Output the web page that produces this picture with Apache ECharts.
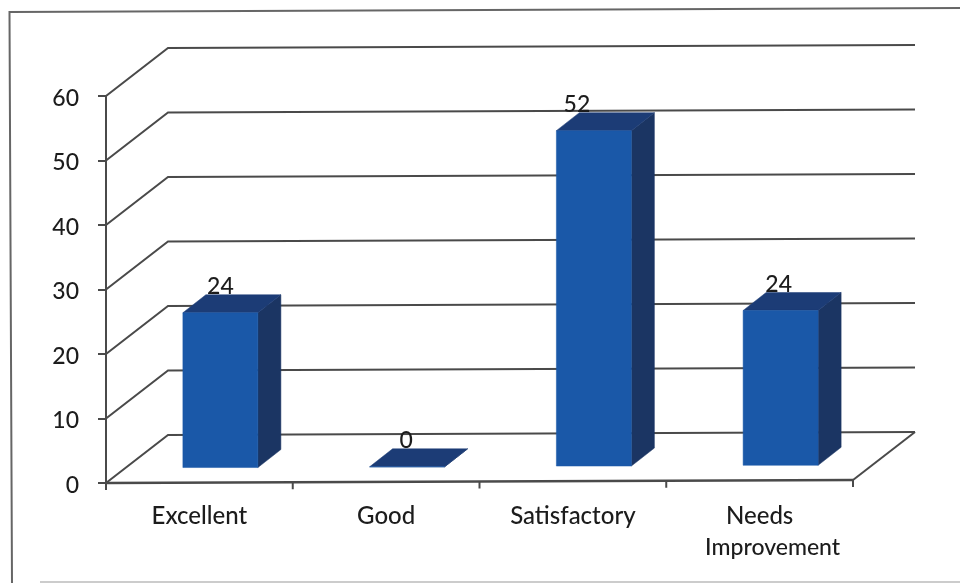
<!DOCTYPE html>
<html><head><meta charset="utf-8">
<style>html,body{margin:0;padding:0;background:#fff}#c{width:960px;height:583px}</style>
<script src="https://cdn.jsdelivr.net/npm/echarts@6/dist/echarts.min.js"></script>
</head><body><div id="c"></div>
<script>
const categories = ['Excellent', 'Good', 'Satisfactory', 'Needs\nImprovement'];
const values = [24, 0, 52, 24];
const valueTicks = [0, 10, 20, 30, 40, 50, 60];
const labelShift = [0, -1, -17, -2];

const WALL = [62, -48], FRONT = [21, -15], DEPTH = [23, -18], HALF = 37.5, TILT = -3 / 747;
const LINE = '#4a4a4a', INK = '#1c1c1c';
const chart = echarts.init(document.getElementById('c'));

function bounds(api) {
  const band = api.size([1, 0])[0];
  return { band, x0: api.coord([0, 0])[0] - band / 2, x1: api.coord([categories.length - 1, 0])[0] + band / 2 };
}
const line = (pts, width) => ({ type: 'polyline', silent: true, shape: { points: pts }, style: { stroke: LINE, lineWidth: width || 2, fill: null } });

function renderWall(params, api) {
  const { x0, x1 } = bounds(api);
  const y = api.coord([0, api.value(1)])[1];
  const span = (x1 - x0) * TILT;
  return line([[x0, y], [x0 + WALL[0], y + WALL[1]], [x1 + WALL[0], y + WALL[1] + span]]);
}
function renderFloor(params, api) {
  const { band, x0, x1 } = bounds(api);
  const y = api.coord([0, 0])[1];
  const span = (x1 - x0) * TILT;
  const kids = [line([[x0, y], [x1, y + span]], 2.4), line([[x1, y + span], [x1 + WALL[0], y + span + WALL[1]]])];
  for (let i = 0; i <= categories.length; i++) {
    const x = x0 + band * i, yy = y + (x - x0) * TILT;
    kids.push(line([[x, yy], [x, yy + 7]]));
  }
  return { type: 'group', children: kids };
}
function renderBar(params, api) {
  const { x0 } = bounds(api);
  const v = api.value(1);
  const c = api.coord([api.value(0), v]);
  const base = api.coord([api.value(0), 0])[1];
  const cx = c[0] + FRONT[0];
  const l = cx - HALF, r = cx + HALF;
  const t = (cx - x0) * TILT + FRONT[1];
  const top = c[1] + t, bot = base + t;
  const [dx, dy] = DEPTH;
  const poly = (pts, fill) => ({ type: 'polygon', shape: { points: pts }, style: { fill, stroke: fill, lineWidth: 0.5 } });
  return { type: 'group', children: [
    poly([[r, top], [r + dx, top + dy], [r + dx, bot + dy], [r, bot]], '#1b3563'),
    poly([[l, top], [l + dx, top + dy], [r + dx, top + dy], [r, top]], '#1c3c76'),
    poly([[l, top], [r, top], [r, bot], [l, bot]], '#1a58a8'),
    { type: 'text', style: { text: String(v), x: cx + labelShift[params.dataIndex], y: top - 26,
        align: 'center', verticalAlign: 'middle', font: '500 23px Lato', fill: INK } }
  ] };
}

const labelFont = { fontFamily: 'Lato', fontWeight: 500, color: INK };
chart.setOption({
  animation: false,
  backgroundColor: '#fff',
  grid: { left: 106, right: 107, top: 96, bottom: 100 },
  graphic: [{ type: 'polyline', silent: true, z: -1,
    shape: { points: [[12, 583], [9.5, 12], [960, 8]] },
    style: { fill: null, stroke: '#666', lineWidth: 2 } },
    { type: 'line', silent: true, z: -1, shape: { x1: 40, y1: 582, x2: 960, y2: 582 },
    style: { stroke: '#bbb', lineWidth: 1.5 } }],
  xAxis: { type: 'category', data: categories,
    axisLine: { show: false }, axisTick: { show: false },
    axisLabel: { ...labelFont, margin: 17, lineHeight: 32, fontSize: 24, interval: 0,
      formatter: s => s.includes('\n') ? s.split('\n').map((p, i) => i ? '{b|' + p + '}' : '{a|' + p + '}').join('\n') : s,
      rich: { a: { ...labelFont, fontSize: 24, lineHeight: 32 },
              b: { ...labelFont, fontSize: 23, lineHeight: 32, padding: [0, 0, 0, 26] } } } },
  yAxis: { type: 'value', min: 0, max: 60, interval: 10, splitLine: { show: false },
    axisLine: { show: true, lineStyle: { color: LINE, width: 2 } },
    axisTick: { show: true, length: 8, lineStyle: { color: LINE, width: 2 } },
    axisLabel: { ...labelFont, margin: 27, fontSize: 23, formatter: v => '{n|' + v + '}',
      rich: { n: { ...labelFont, fontSize: 23, padding: [5, 0, 0, 0] } } } },
  series: [
    { type: 'custom', name: 'wall', coordinateSystem: 'cartesian2d', clip: false, silent: true,
      renderItem: renderWall, data: valueTicks.map(v => [0, v]) },
    { type: 'custom', name: 'floor', coordinateSystem: 'cartesian2d', clip: false, silent: true,
      renderItem: renderFloor, data: [[0, 0]] },
    { type: 'custom', name: 'bars', coordinateSystem: 'cartesian2d', clip: false,
      renderItem: renderBar, data: values.map((v, i) => [i, v]) }
  ]
});
</script></body></html>
